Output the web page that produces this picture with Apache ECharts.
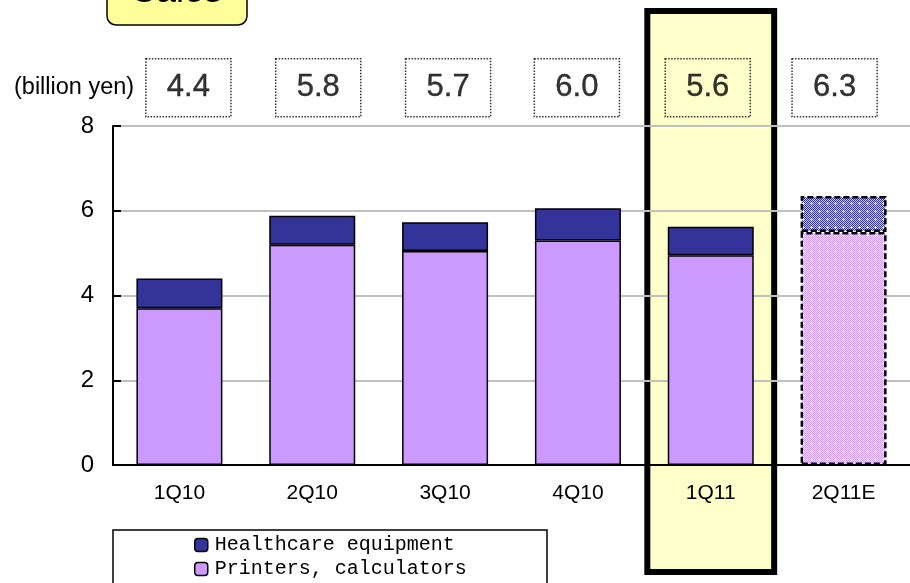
<!DOCTYPE html>
<html>
<head>
<meta charset="utf-8">
<script src="https://cdn.jsdelivr.net/npm/echarts@6/dist/echarts.min.js"></script>
<style>
  html, body { margin: 0; padding: 0; background: #fff; }
  #main { width: 910px; height: 583px; }
</style>
</head>
<body>
<div id="main"></div>
<script>
// 数据
const categories = ['1Q10', '2Q10', '3Q10', '4Q10', '1Q11', '2Q11E']
const printers = [3.7, 5.2, 5.05, 5.3, 4.95, 5.5]
const healthcare = [0.7, 0.68, 0.68, 0.76, 0.67, 0.85]
const totalLabels = ['4.4', '5.8', '5.7', '6.0', '5.6', '6.3']
const yTicks = [0, 2, 4, 6, 8]

const estimateIndex = 5 // 2Q11E 是预测值
const highlightCat = '1Q11'
const labelRowY = 8.9 // 数值框所在高度
const boxShift = [9, 6, 3, -1, -3, -9] // 数值框的水平微调(px)

const font = 'Liberation Sans, Arial, sans-serif'
const mono = 'Liberation Mono, DejaVu Sans Mono, monospace'

// 预测柱的点状填充
function makePattern(base, tint) {
  const c = document.createElement('canvas')
  c.width = 8
  c.height = 8
  const ctx = c.getContext('2d')
  for (let y = 0; y < 8; y++) {
    for (let x = 0; x < 8; x++) {
      ctx.fillStyle = (x + y) % 2 === 0 ? base : tint
      ctx.fillRect(x, y, 1, 1)
    }
  }
  // 白色小十字
  ctx.fillStyle = '#fff'
  ctx.fillRect(3, 2, 1, 3)
  ctx.fillRect(2, 3, 3, 1)
  return { image: c, repeat: 'repeat' }
}

const barBorder = { borderColor: '#000', borderWidth: 1.5 }
const estBorder = { borderColor: '#000', borderWidth: 2.5, borderType: [6, 3] }

function barData(values, pattern) {
  return values.map((v, i) => {
    if (i !== estimateIndex) return v
    return { value: v, itemStyle: Object.assign({ color: pattern }, estBorder) }
  })
}

const chart = echarts.init(document.getElementById('main'))

const option = {
  animation: false,
  textStyle: { fontFamily: font, color: '#000' },
  grid: { left: 113, right: -3, top: 126, bottom: 118 },
  legend: {
    orient: 'vertical',
    left: 194,
    top: 535,
    padding: 0,
    itemWidth: 13,
    itemHeight: 13,
    itemGap: 4,
    data: ['Healthcare equipment', 'Printers, calculators'],
    itemStyle: { borderColor: '#000', borderWidth: 1.5 },
    textStyle: { fontFamily: mono, fontSize: 20, color: '#000', padding: [0, 0, 0, 2] }
  },
  xAxis: {
    type: 'category',
    data: categories,
    axisLine: { lineStyle: { color: '#000', width: 2 } },
    axisTick: { inside: true, length: 8, lineStyle: { color: '#000', width: 2 } },
    axisLabel: { color: '#000', fontSize: 21, margin: 18, fontFamily: font }
  },
  yAxis: {
    type: 'value',
    min: yTicks[0],
    max: yTicks[yTicks.length - 1],
    interval: yTicks[1] - yTicks[0],
    axisLine: { show: true, lineStyle: { color: '#000', width: 2 } },
    axisTick: { show: true, inside: true, length: 8, lineStyle: { color: '#000', width: 2 } },
    axisLabel: { color: '#000', fontSize: 24, margin: 19, fontFamily: font },
    splitLine: { lineStyle: { color: '#c0c0c0', width: 2 } }
  },
  series: [
    {
      name: 'Printers, calculators',
      type: 'bar',
      stack: 'sales',
      barWidth: 86,
      itemStyle: Object.assign({ color: '#cc99ff' }, barBorder),
      data: barData(printers, makePattern('#cc99ff', '#f3e6ff'))
    },
    {
      name: 'Healthcare equipment',
      type: 'bar',
      stack: 'sales',
      barWidth: 86,
      itemStyle: Object.assign({ color: '#333399' }, barBorder),
      data: barData(healthcare, makePattern('#333399', '#c8c8e8'))
    },
    {
      // 顶部虚线框里的合计值
      type: 'scatter',
      symbolSize: 0,
      silent: true,
      clip: false,
      data: categories.map((c, i) => ({
        value: [i, labelRowY],
        label: { offset: [boxShift[i], 0] }
      })),
      label: {
        show: true,
        position: 'inside',
        formatter: p => totalLabels[p.dataIndex],
        fontSize: 31,
        fontFamily: font,
        color: '#000',
        textBorderColor: '#000',
        textBorderWidth: 0.4,
        lineHeight: 34,
        padding: [12, 21, 12, 21],
        borderColor: '#000',
        borderWidth: 1.5,
        borderType: 'dotted'
      }
    }
  ],
  graphic: [
    {
      // 左上角 "Sales" 标题
      type: 'group',
      z: 100,
      children: [
        {
          type: 'rect',
          shape: { x: 107, y: -30, width: 140, height: 55, r: 9 },
          style: { fill: '#ffff99', stroke: '#000', lineWidth: 1.5 }
        },
        {
          type: 'text',
          x: 177,
          y: -8,
          style: { text: 'Sales', font: '36px ' + font, fill: '#000', align: 'center', verticalAlign: 'middle' }
        }
      ]
    },
    {
      type: 'text',
      x: 14,
      y: 88,
      style: { text: '(billion yen)', font: '23.5px ' + font, fill: '#000', verticalAlign: 'middle' }
    },
    {
      // 图例外框（超出画面底部）
      type: 'rect',
      shape: { x: 113, y: 530, width: 434, height: 70 },
      style: { fill: 'none', stroke: '#000', lineWidth: 1.5 }
    }
  ]
}

chart.setOption(option)

// 用坐标轴换算 1Q11 的高亮框位置
const ci = categories.indexOf(highlightCat)
const cx = chart.convertToPixel({ xAxisIndex: 0 }, ci)
const bw = chart.convertToPixel({ xAxisIndex: 0 }, 1) - chart.convertToPixel({ xAxisIndex: 0 }, 0)
const lw = 6
chart.setOption({
  graphic: option.graphic.concat([
    {
      type: 'rect',
      z: -10,
      shape: { x: cx - bw / 2 + lw / 2, y: 8 + lw / 2, width: bw - lw, height: 567 - lw },
      style: { fill: '#ffffcc', stroke: '#000', lineWidth: lw }
    }
  ])
})
</script>
</body>
</html>
